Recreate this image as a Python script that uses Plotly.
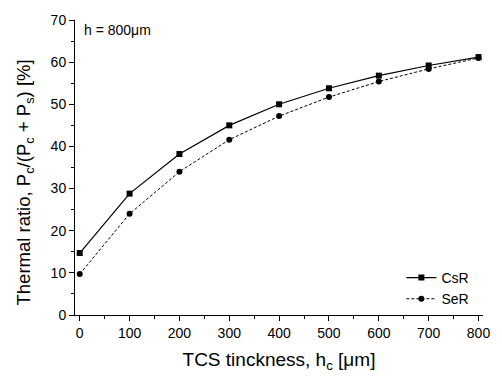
import plotly.graph_objects as go

thickness = [0, 100, 200, 300, 400, 500, 600, 700, 800]
csr = [14.7, 28.8, 38.2, 45.0, 50.0, 53.8, 56.8, 59.2, 61.2]
ser = [9.7, 24.0, 34.0, 41.6, 47.2, 51.7, 55.4, 58.4, 61.0]

fig = go.Figure()
fig.add_trace(go.Scatter(x=thickness, y=csr, name="CsR", mode="lines+markers",
                         line=dict(color="black", width=1.2),
                         marker=dict(symbol="square", size=6, color="black")))
fig.add_trace(go.Scatter(x=thickness, y=ser, name="SeR", mode="lines+markers",
                         line=dict(color="black", width=1, dash="3px,2px"),
                         marker=dict(symbol="circle", size=6, color="black")))

font = "Liberation Sans, Arial, sans-serif"
fig.update_layout(
    width=502, height=378,
    margin=dict(l=75, r=15, t=16, b=61),
    paper_bgcolor="white", plot_bgcolor="white",
    font=dict(family=font, color="black", size=14),
    showlegend=True,
    legend=dict(x=0.80, y=0.09, xanchor="left", yanchor="middle",
                bgcolor="rgba(0,0,0,0)", font=dict(size=14), tracegroupgap=0,
                itemwidth=30),
    xaxis=dict(range=[-9.5, 809], tickvals=thickness, showline=True, linecolor="black",
               linewidth=1, ticks="outside", ticklen=5, tickcolor="black", showgrid=False,
               zeroline=False, tickfont=dict(size=14),
               minor=dict(ticks="outside", ticklen=3, dtick=50, tick0=0, tickcolor="black"),
               title=dict(text="TCS tinckness, h<sub>c</sub> [μm]", font=dict(size=19), standoff=12)),
    yaxis=dict(range=[0, 70], dtick=10, showline=True, linecolor="black", linewidth=1,
               ticks="outside", ticklen=5, tickcolor="black", showgrid=False, zeroline=False,
               tickfont=dict(size=14),
               minor=dict(ticks="outside", ticklen=3, dtick=5, tick0=0, tickcolor="black")),
    annotations=[
        dict(text="h = 800μm", x=0.018, y=1.0, xref="paper", yref="paper",
             xanchor="left", yanchor="top", showarrow=False, font=dict(size=14)),
        dict(text="Thermal ratio, P<sub>c</sub>/(P<sub>c</sub> + P<sub>s</sub>) [%]",
             x=-0.122, y=0.45, xref="paper", yref="paper", textangle=-90,
             xanchor="center", yanchor="middle", showarrow=False, font=dict(size=18.5)),
    ],
)
fig.write_html("out.html")
